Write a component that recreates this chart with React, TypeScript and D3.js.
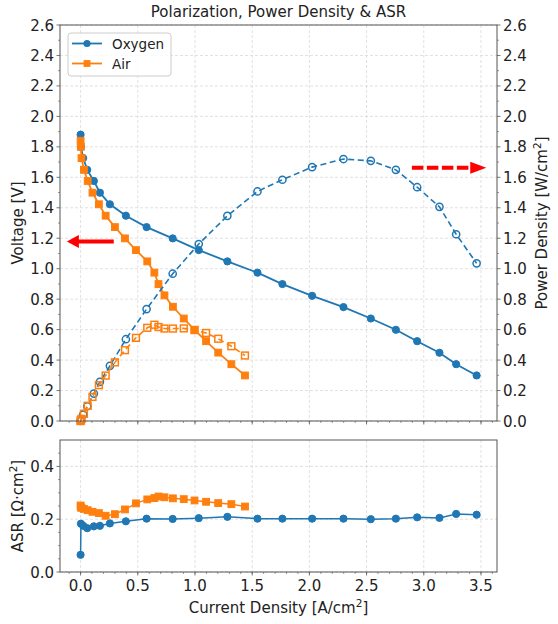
import * as d3 from "d3";

// Oxygen run
const oxyCurrent = [0, 0.003, 0.023, 0.058, 0.116, 0.169, 0.256, 0.396, 0.577, 0.805, 1.033, 1.283, 1.546, 1.764, 2.024, 2.298, 2.537, 2.756, 2.942, 3.137, 3.283, 3.462];
const oxyVoltage = [1.88, 1.8, 1.726, 1.649, 1.576, 1.499, 1.423, 1.348, 1.273, 1.199, 1.122, 1.048, 0.974, 0.899, 0.822, 0.748, 0.673, 0.599, 0.524, 0.448, 0.373, 0.299];
const oxyPower = [0, 0.005, 0.042, 0.097, 0.18, 0.257, 0.362, 0.537, 0.735, 0.967, 1.162, 1.347, 1.507, 1.584, 1.667, 1.72, 1.708, 1.649, 1.535, 1.406, 1.226, 1.035];
const oxyAsr = [0.065, 0.183, 0.175, 0.166, 0.173, 0.175, 0.184, 0.192, 0.202, 0.201, 0.204, 0.209, 0.202, 0.202, 0.202, 0.202, 0.2, 0.202, 0.207, 0.205, 0.22, 0.217];

// Air run
const airCurrent = [0, 0.002, 0.008, 0.029, 0.062, 0.104, 0.16, 0.219, 0.3, 0.388, 0.484, 0.583, 0.645, 0.681, 0.733, 0.807, 0.902, 0.996, 1.097, 1.203, 1.318, 1.437];
const airVoltage = [1.84, 1.8, 1.726, 1.649, 1.576, 1.499, 1.423, 1.348, 1.273, 1.199, 1.122, 1.048, 0.974, 0.899, 0.825, 0.75, 0.673, 0.599, 0.524, 0.449, 0.373, 0.299];
const airPower = [0, 0.004, 0.014, 0.048, 0.1, 0.158, 0.235, 0.298, 0.385, 0.465, 0.546, 0.612, 0.632, 0.617, 0.607, 0.607, 0.608, 0.597, 0.578, 0.54, 0.491, 0.43];
const airAsr = [0.252, 0.245, 0.243, 0.239, 0.234, 0.228, 0.223, 0.213, 0.219, 0.237, 0.26, 0.275, 0.28, 0.286, 0.283, 0.279, 0.276, 0.271, 0.266, 0.261, 0.257, 0.248];

const xTicks = [0, 0.5, 1, 1.5, 2, 2.5, 3, 3.5];
const vTicks = [0, 0.2, 0.4, 0.6, 0.8, 1, 1.2, 1.4, 1.6, 1.8, 2, 2.2, 2.4, 2.6];
const asrTicks = [0, 0.2, 0.4];

const BLUE = "#1f77b4";
const ORANGE = "#ff7f0e";
const AXIS = "#555";
const GRID = "#d9d9d9";
const FONT = "DejaVu Sans";
const FS = 15;

const W = 558;
const H = 624;
const left = 60;
const right = 497;
const top1 = 25;
const bot1 = 421;
const top2 = 440;
const bot2 = 572;

const x = d3.scaleLinear().domain([-0.18, 3.64]).range([left, right]);
const yV = d3.scaleLinear().domain([0, 2.6]).range([bot1, top1]);
const yA = d3.scaleLinear().domain([0, 0.5]).range([bot2, top2]);

const zip = (a: number[], b: number[]) => a.map((v, i) => [v, b[i]] as [number, number]);

const Circles = ({ pts, y, open }: { pts: [number, number][]; y: any; open?: boolean }) => (
  <g>
    {pts.map(([a, b], i) => (
      <circle key={i} cx={x(a)} cy={y(b)} r={3.6}
        fill={open ? "none" : BLUE} stroke={BLUE} strokeWidth={open ? 1.5 : 1} />
    ))}
  </g>
);

const Squares = ({ pts, y, open }: { pts: [number, number][]; y: any; open?: boolean }) => (
  <g>
    {pts.map(([a, b], i) => (
      <rect key={i} x={x(a) - 3.4} y={y(b) - 3.4} width={6.8} height={6.8}
        fill={open ? "none" : ORANGE} stroke={ORANGE} strokeWidth={open ? 1.5 : 1} />
    ))}
  </g>
);

const Frame = ({ t, b, y, ticks, minor, fmt, showX, rightAxis }: any) => {
  const xMinor = d3.range(-1, 37).map((d) => d / 10).filter((d) => d >= -0.18 && d <= 3.64);
  return (
    <g>
      {xTicks.map((d) => (
        <line key={"gx" + d} x1={x(d)} x2={x(d)} y1={t} y2={b} stroke={GRID} strokeDasharray="3,2" strokeWidth={0.8} />
      ))}
      {ticks.map((d: number) => (
        <line key={"gy" + d} x1={left} x2={right} y1={y(d)} y2={y(d)} stroke={GRID} strokeDasharray="3,2" strokeWidth={0.8} />
      ))}
      {xMinor.map((d) => (
        <line key={"mx" + d} x1={x(d)} x2={x(d)} y1={b} y2={b + 2} stroke={AXIS} strokeWidth={0.6} />
      ))}
      {xTicks.map((d) => (
        <line key={"tx" + d} x1={x(d)} x2={x(d)} y1={b} y2={b + 3.5} stroke={AXIS} strokeWidth={0.8} />
      ))}
      {showX && xTicks.map((d) => (
        <text key={"lx" + d} x={x(d)} y={b + 19} textAnchor="middle" fontSize={FS} fill="#222">{d.toFixed(1)}</text>
      ))}
      {minor.map((d: number) => (
        <line key={"my" + d} x1={left - 2} x2={left} y1={y(d)} y2={y(d)} stroke={AXIS} strokeWidth={0.6} />
      ))}
      {ticks.map((d: number) => (
        <g key={"ty" + d}>
          <line x1={left - 3.5} x2={left} y1={y(d)} y2={y(d)} stroke={AXIS} strokeWidth={0.8} />
          <text x={left - 6} y={y(d) + 5.5} textAnchor="end" fontSize={FS} fill="#222">{fmt(d)}</text>
        </g>
      ))}
      {rightAxis && minor.map((d: number) => (
        <line key={"mr" + d} x1={right} x2={right + 2} y1={y(d)} y2={y(d)} stroke={AXIS} strokeWidth={0.6} />
      ))}
      {rightAxis && ticks.map((d: number) => (
        <g key={"tr" + d}>
          <line x1={right} x2={right + 3.5} y1={y(d)} y2={y(d)} stroke={AXIS} strokeWidth={0.8} />
          <text x={right + 6} y={y(d) + 5.5} textAnchor="start" fontSize={FS} fill="#222">{fmt(d)}</text>
        </g>
      ))}
    </g>
  );
};

export default function App() {
  const line = d3.line<[number, number]>();
  const pathV = (pts: [number, number][]) => line(pts.map(([a, b]) => [x(a), yV(b)]));
  const pathA = (pts: [number, number][]) => line(pts.map(([a, b]) => [x(a), yA(b)]));

  const oV = zip(oxyCurrent, oxyVoltage);
  const oP = zip(oxyCurrent, oxyPower);
  const oA = zip(oxyCurrent, oxyAsr);
  const aV = zip(airCurrent, airVoltage);
  const aP = zip(airCurrent, airPower);
  const aA = zip(airCurrent, airAsr);

  const vMinor = d3.range(1, 26, 2).map((d) => d / 10);
  const asrMinor = [0.05, 0.1, 0.15, 0.25, 0.3, 0.35, 0.45];

  // arrows in data coordinates
  const la = { x0: x(0.29), x1: x(-0.12), y: yV(1.178) };
  const ra = { x0: x(2.896), x1: x(3.546), y: yV(1.662) };

  return (
    <svg width={W} height={H} style={{ position: "absolute", left: 0, top: 0, background: "#fff" }} fontFamily={FONT}>
      <rect width={W} height={H} fill="#fff" />
      <text x={(left + right) / 2} y={17} textAnchor="middle" fontSize={FS} fill="#222">
        Polarization, Power Density &amp; ASR
      </text>

      {/* top panel */}
      <Frame t={top1} b={bot1} y={yV} ticks={vTicks} minor={vMinor} fmt={(d: number) => d.toFixed(1)} showX={false} rightAxis />
      <path d={pathV(oV) || ""} fill="none" stroke={BLUE} strokeWidth={1.8} />
      <Circles pts={oV} y={yV} />
      <path d={pathV(aV) || ""} fill="none" stroke={ORANGE} strokeWidth={1.8} />
      <Squares pts={aV} y={yV} />
      <path d={pathV(oP) || ""} fill="none" stroke={BLUE} strokeWidth={1.6} strokeDasharray="6,3.5" />
      <Circles pts={oP} y={yV} open />
      <path d={pathV(aP) || ""} fill="none" stroke={ORANGE} strokeWidth={1.6} strokeDasharray="6,3.5" />
      <Squares pts={aP} y={yV} open />

      {/* red arrows */}
      <line x1={la.x0} x2={la.x1 + 11} y1={la.y} y2={la.y} stroke="red" strokeWidth={4} />
      <polygon points={`${la.x1},${la.y} ${la.x1 + 12},${la.y - 6.5} ${la.x1 + 12},${la.y + 6.5}`} fill="red" />
      <line x1={ra.x0} x2={ra.x1 - 15} y1={ra.y} y2={ra.y} stroke="red" strokeWidth={4} strokeDasharray="11.5,3.5" />
      <polygon points={`${ra.x1},${ra.y} ${ra.x1 - 16},${ra.y - 6} ${ra.x1 - 16},${ra.y + 6}`} fill="red" />

      <rect x={left} y={top1} width={right - left} height={bot1 - top1} fill="none" stroke={AXIS} strokeWidth={1} />

      {/* legend */}
      <rect x={68} y={33} width={103} height={43} rx={3} fill="#fff" fillOpacity={0.8} stroke="#ccc" strokeWidth={1} />
      <line x1={72} x2={102} y1={43.5} y2={43.5} stroke={BLUE} strokeWidth={1.8} />
      <circle cx={87} cy={43.5} r={3.6} fill={BLUE} />
      <text x={112} y={48.5} fontSize={13.5} fill="#222">Oxygen</text>
      <line x1={72} x2={102} y1={63.5} y2={63.5} stroke={ORANGE} strokeWidth={1.8} />
      <rect x={83.6} y={60.1} width={6.8} height={6.8} fill={ORANGE} />
      <text x={112} y={68.5} fontSize={13.5} fill="#222">Air</text>

      <text transform={`translate(23,${(top1 + bot1) / 2}) rotate(-90)`} textAnchor="middle" fontSize={FS} fill="#222">
        Voltage [V]
      </text>
      <text transform={`translate(547,${(top1 + bot1) / 2}) rotate(-90)`} textAnchor="middle" fontSize={FS} fill="#222">
        Power Density [W/cm<tspan dy={-6} fontSize={10.5}>2</tspan><tspan dy={6}>]</tspan>
      </text>

      {/* bottom panel */}
      <Frame t={top2} b={bot2} y={yA} ticks={asrTicks} minor={asrMinor} fmt={(d: number) => d.toFixed(1)} showX />
      <path d={pathA(oA) || ""} fill="none" stroke={BLUE} strokeWidth={1.5} />
      <Circles pts={oA} y={yA} />
      <path d={pathA(aA) || ""} fill="none" stroke={ORANGE} strokeWidth={1.5} />
      <Squares pts={aA} y={yA} />
      <rect x={left} y={top2} width={right - left} height={bot2 - top2} fill="none" stroke={AXIS} strokeWidth={1} />

      <text transform={`translate(23,${(top2 + bot2) / 2}) rotate(-90)`} textAnchor="middle" fontSize={FS} fill="#222">
        ASR [Ω·cm<tspan dy={-6} fontSize={10.5}>2</tspan><tspan dy={6}>]</tspan>
      </text>
      <text x={(left + right) / 2} y={613} textAnchor="middle" fontSize={FS} fill="#222">
        Current Density [A/cm<tspan dy={-6} fontSize={10.5}>2</tspan><tspan dy={6}>]</tspan>
      </text>
    </svg>
  );
}
